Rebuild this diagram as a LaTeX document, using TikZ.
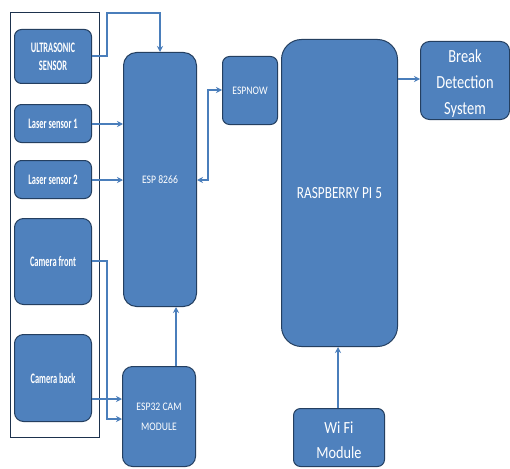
\documentclass[tikz,border=0pt]{standalone}
\usepackage{fontspec}
\setmainfont{Carlito}
\newfontfamily\sensfont[FakeStretch=0.58]{Carlito}
\newfontfamily\espfont[FakeStretch=0.84]{Carlito}
\newfontfamily\bigfont[FakeStretch=0.78]{Carlito}
\usetikzlibrary{arrows.meta,calc}
\definecolor{boxfill}{HTML}{4F81BD}
\definecolor{boxline}{HTML}{243F60}
\definecolor{arr}{HTML}{4A7EBB}
\tikzset{
  x=1pt,y=-1pt,
  blk/.style={draw=boxline,line width=1pt,fill=boxfill,text=white,align=center,
    anchor=north west,inner sep=0pt,rounded corners=#1},
  blk/.default=7pt,
  sens/.style={font=\sensfont\bfseries\fontsize{14.5}{18}\selectfont},
  esp/.style={font=\espfont\fontsize{11.5}{20}\selectfont},
  conn/.style={draw=arr,line width=1.6pt,-{Stealth[length=6pt,width=6pt]}},
  dconn/.style={draw=arr,line width=1.6pt,{Stealth[length=6pt,width=6pt]}-{Stealth[length=6pt,width=6pt]}},
}
\begin{document}
\begin{tikzpicture}
\useasboundingbox (0,0) rectangle (510,468);
\fill[white] (0,0) rectangle (510,468);
% frame
\node[draw=boxline!80!black,line width=0.8pt,anchor=north west,minimum width=89pt,minimum height=425pt,inner sep=0pt] (frame) at (10,12) {};
% left sensors
\node[blk,sens,minimum width=77pt,minimum height=54pt] (us) at (14,29) {ULTRASONIC\\SENSOR};
\node[blk,sens,minimum width=77pt,minimum height=38pt] (l1) at (14,104) {Laser sensor 1};
\node[blk,sens,minimum width=77pt,minimum height=38pt] (l2) at (14,160) {Laser sensor 2};
\node[blk=9pt,sens,minimum width=77pt,minimum height=86pt] (cf) at (14,218) {Camera front};
\node[blk=9pt,sens,minimum width=77pt,minimum height=87pt] (cb) at (14,334) {Camera back};
% ESP
\node[blk=13pt,esp,minimum width=73pt,minimum height=254pt] (esp) at (123,52) {ESP 8266};
\node[blk=10pt,esp,minimum width=73pt,minimum height=100pt] (cam) at (122,366) {ESP32 CAM\\MODULE};
\node[blk,esp,minimum width=55pt,minimum height=68pt] (now) at (222,56) {ESPNOW};
\node[blk=20pt,font=\bigfont\fontsize{17}{20}\selectfont,minimum width=116pt,minimum height=307pt] (rpi) at (281,39) {RASPBERRY PI 5};
\node[blk=9pt,font=\bigfont\fontsize{18.5}{26}\selectfont,minimum width=89pt,minimum height=78pt] (bds) at (420,41) {\rule{0pt}{18pt}Break\\Detection\\System};
\node[blk,font=\espfont\fontsize{17}{25}\selectfont,minimum width=91pt,minimum height=58pt] (wifi) at (293,408) {\rule{0pt}{17pt}Wi Fi\\Module};
% connectors
\draw[conn] (us.east |- 0,56) -- (107,56) -- (107,13) -- (160,13) -- (esp.north -| 160,0);
\draw[conn] (l1.east |- 0,124) -- (esp.west |- 0,124);
\draw[conn] (l2.east |- 0,180) -- (esp.west |- 0,180);
\draw[dconn] (esp.east |- 0,180) -- (208,180) -- (208,90) -- (now.west |- 0,90);
\draw[conn] (cf.east |- 0,261) -- (107,261) -- (107,419) -- (cam.west |- 0,419);
\draw[conn] (cb.east |- 0,399) -- (cam.west |- 0,399);
\draw[conn] (cam.north -| 176,0) -- (esp.south -| 176,0);
\draw[conn] (rpi.east |- 0,79) -- (bds.west |- 0,79);
\draw[conn] (wifi.north -| 338,0) -- (rpi.south -| 338,0);
\end{tikzpicture}
\end{document}
